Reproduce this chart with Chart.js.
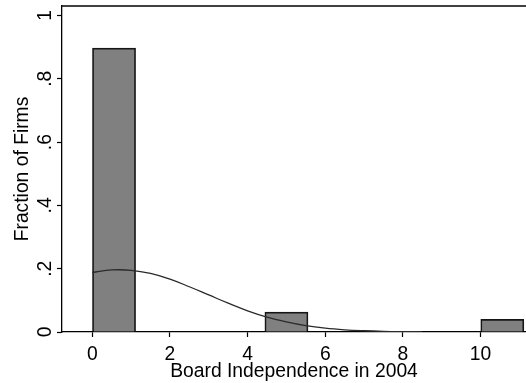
<!DOCTYPE html>
<html>
<head>
<meta charset="utf-8">
<script src="https://cdn.jsdelivr.net/npm/chart.js@4/dist/chart.umd.min.js"></script>
<style>
  html, body { margin: 0; padding: 0; background: #fff; }
  canvas { display: block; }
</style>
</head>
<body>
<canvas id="hist" width="526" height="383"></canvas>
<script>
// Histogram bins (centres) and the fraction of firms in each bin
const binCenters = [0.56, 1.67, 2.78, 3.89, 5.00, 6.11, 7.22, 8.33, 9.44, 10.56];
const binFractions = [0.897, 0, 0, 0, 0.063, 0, 0, 0, 0, 0.040];

// Overlaid normal density, expressed as a fraction per bin
const curveX = [0, 0.5, 1, 1.5, 2, 2.5, 3, 3.5, 4, 4.5, 5, 5.5, 6, 6.5, 7, 7.5, 8, 8.5];
const curveY = [0.188, 0.196, 0.195, 0.185, 0.167, 0.143, 0.117, 0.091, 0.067, 0.047,
                0.032, 0.020, 0.012, 0.007, 0.004, 0.002, 0.001, 0.0005];

// Axis ticks
const xTickValues = [0, 2, 4, 6, 8, 10];
const yTickValues = [0, 0.2, 0.4, 0.6, 0.8, 1];
const yTickLabels = ['0', '.2', '.4', '.6', '.8', '1'];

const FONT = '"Liberation Sans", Arial, Helvetica, sans-serif';
const FONT_SIZE = 19.3;

// Line along the top of the plot region
const topFrame = {
  id: 'topFrame',
  afterDraw(chart) {
    const { ctx, chartArea } = chart;
    ctx.save();
    ctx.strokeStyle = '#000';
    ctx.lineWidth = 1.3;
    ctx.beginPath();
    ctx.moveTo(chartArea.left, chartArea.top);
    ctx.lineTo(chart.width, chartArea.top);
    ctx.stroke();
    ctx.restore();
  }
};

// Fixed axis sizes so the plot region sits where it should
function fixBox(size) {
  return function (scale) {
    if (scale.isHorizontal()) scale.height = size; else scale.width = size;
    scale.paddingTop = 0;
    scale.paddingBottom = 0;
    scale.paddingLeft = 0;
    scale.paddingRight = 0;
  };
}

new Chart(document.getElementById('hist'), {
  type: 'bar',
  data: {
    datasets: [
      {
        type: 'line',
        data: curveX.map((x, i) => ({ x, y: curveY[i] })),
        borderColor: '#2a2a2a',
        borderWidth: 1.3,
        pointRadius: 0,
        tension: 0.4,
        fill: false,
        order: 0
      },
      {
        type: 'bar',
        data: binCenters.map((x, i) => ({ x, y: binFractions[i] })),
        backgroundColor: '#808080',
        borderColor: '#151515',
        borderWidth: 1.7,
        barPercentage: 1,
        categoryPercentage: 1,
        order: 1
      }
    ]
  },
  options: {
    responsive: false,
    animation: false,
    layout: { padding: { top: 6, right: 0, bottom: 0, left: 0 } },
    plugins: { legend: { display: false }, tooltip: { enabled: false } },
    scales: {
      x: {
        type: 'linear',
        min: -0.78,
        max: 11.17,
        offset: false,
        afterBuildTicks(scale) { scale.ticks = xTickValues.map(v => ({ value: v })); },
        afterFit: fixBox(51),
        ticks: {
          autoSkip: false,
          maxRotation: 0,
          padding: 6,
          color: '#000',
          font: { family: FONT, size: FONT_SIZE },
          callback: (v) => String(v)
        },
        grid: { offset: false, drawOnChartArea: false, drawTicks: true, tickLength: 5, tickColor: '#000', tickWidth: 1.2 },
        border: { display: true, color: '#000', width: 1.3 },
        title: {
          display: true,
          text: 'Board Independence in 2004',
          color: '#000',
          font: { family: FONT, size: FONT_SIZE },
          padding: { top: 0, bottom: 0 }
        }
      },
      y: {
        type: 'linear',
        min: 0,
        max: 1.03,
        afterBuildTicks(scale) { scale.ticks = yTickValues.map(v => ({ value: v })); },
        afterFit: fixBox(62),
        ticks: {
          autoSkip: false,
          minRotation: 90,
          maxRotation: 90,
          crossAlign: 'center',
          padding: 3.5,
          color: '#000',
          font: { family: FONT, size: FONT_SIZE },
          callback: (v) => yTickLabels[yTickValues.indexOf(v)] ?? ''
        },
        grid: { offset: false, drawOnChartArea: false, drawTicks: true, tickLength: 5, tickColor: '#000', tickWidth: 1.2 },
        border: { display: true, color: '#000', width: 1.3 },
        title: {
          display: true,
          text: 'Fraction of Firms',
          color: '#000',
          font: { family: FONT, size: FONT_SIZE },
          padding: { top: 11, bottom: 0 }
        }
      }
    }
  },
  plugins: [topFrame]
});
</script>
</body>
</html>
